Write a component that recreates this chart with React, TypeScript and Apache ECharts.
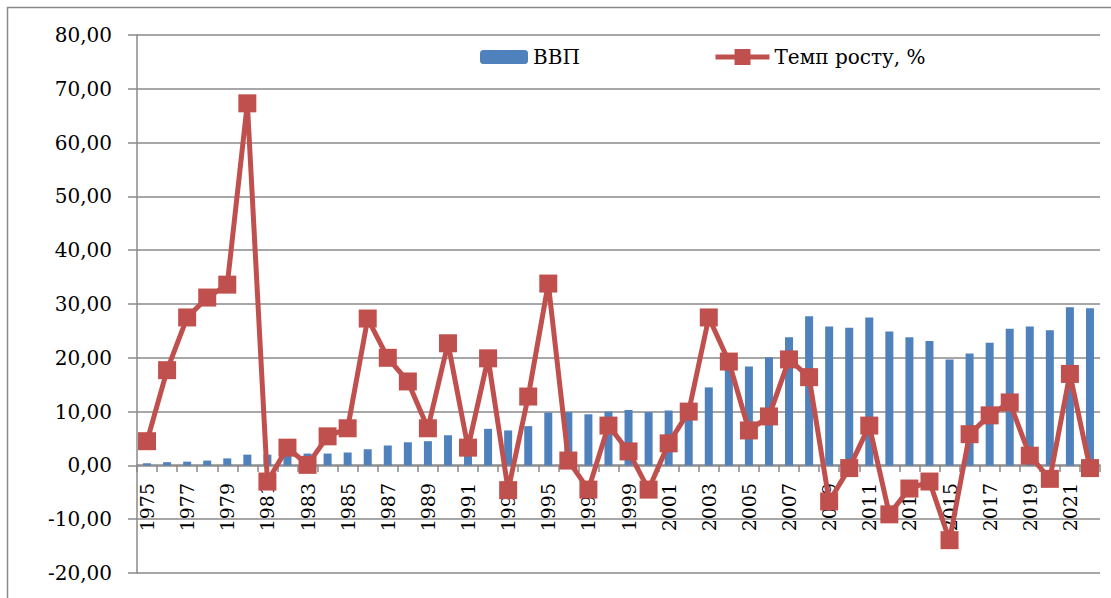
import React, { useEffect, useRef } from "react";
import * as echarts from "echarts";

const years: string[] = [];
for (let y = 1975; y <= 2022; y++) years.push(String(y));

const gdp = [
  0.4, 0.6, 0.7, 0.9, 1.3, 2.0, 2.0, 2.2, 2.2, 2.2, 2.4, 3.0, 3.7, 4.3, 4.5, 5.6,
  5.0, 6.8, 6.5, 7.3, 9.8, 9.9, 9.5, 10.0, 10.3, 9.9, 10.2, 11.0, 14.5, 18.0, 18.4, 20.1,
  23.8, 27.7, 25.8, 25.6, 27.5, 24.9, 23.8, 23.1, 19.7, 20.8, 22.8, 25.4, 25.8, 25.1, 29.4, 29.2,
];

const growth = [
  4.5, 17.7, 27.5, 31.2, 33.6, 67.3, -3.0, 3.3, 0.1, 5.4, 6.9, 27.3, 20.0, 15.6, 6.9, 22.7,
  3.3, 19.9, -4.6, 12.8, 33.8, 0.9, -4.5, 7.4, 2.6, -4.5, 4.1, 10.0, 27.5, 19.3, 6.5, 9.1,
  19.7, 16.4, -6.7, -0.5, 7.4, -9.1, -4.3, -3.0, -13.9, 5.8, 9.3, 11.7, 1.8, -2.5, 17.0, -0.5,
];

const gdpName = "ВВП";
const growthName = "Темп росту, %";

const FONT = "DejaVu Serif";
const GRAY = "#8a8a8a";

export default function App() {
  const ref = useRef<HTMLDivElement>(null);
  useEffect(() => {
    if (!ref.current) return;
    const chart = echarts.init(ref.current, null, { renderer: "svg" });
    chart.setOption({
      animation: false,
      backgroundColor: "#ffffff",
      textStyle: { fontFamily: FONT, color: "#000" },
      graphic: [
        {
          type: "rect",
          shape: { x: 7.5, y: 7.5, width: 1200, height: 700 },
          style: { fill: "none", stroke: GRAY, lineWidth: 1.5 },
          silent: true,
        },
      ],
      legend: [
        {
          data: [gdpName],
          left: 475,
          top: 42,
          itemWidth: 48,
          itemHeight: 14,
          textStyle: { fontFamily: FONT, fontSize: 20, color: "#000" },
        },
        {
          data: [growthName],
          left: 708,
          top: 42,
          itemWidth: 54,
          itemHeight: 20,
          itemGap: 3,
          lineStyle: { width: 5 },
          textStyle: { fontFamily: FONT, fontSize: 20, color: "#000" },
        },
      ],
      grid: { left: 137, right: 11, top: 35, bottom: 25, containLabel: false, outerBoundsMode: "none" },
      xAxis: {
        type: "category",
        data: years,
        boundaryGap: true,
        offset: -108,
        axisLine: { show: true, onZero: false, lineStyle: { color: GRAY, width: 1.5 } },
        axisTick: { show: true, interval: 0, length: 7, lineStyle: { color: GRAY, width: 1.5 } },
        axisLabel: {
          interval: 1,
          rotate: 90,
          margin: 18,
          fontFamily: FONT,
          fontSize: 19,
          color: "#000",
          hideOverlap: false,
        },
        splitLine: { show: false },
      },
      yAxis: {
        type: "value",
        min: -20,
        max: 80,
        interval: 10,
        axisLine: { show: true, lineStyle: { color: GRAY, width: 1.5 } },
        axisTick: { show: true, length: 9, lineStyle: { color: GRAY, width: 1.5 } },
        axisLabel: {
          margin: 25,
          fontFamily: FONT,
          fontSize: 20,
          color: "#000",
          formatter: (v: number) => v.toFixed(2).replace(".", ","),
        },
        splitLine: { show: true, lineStyle: { color: GRAY, width: 1.5 } },
      },
      series: [
        {
          name: gdpName,
          type: "bar",
          data: gdp,
          barWidth: 8,
          itemStyle: { color: "#4F81BD" },
        },
        {
          name: growthName,
          type: "line",
          data: growth,
          symbol: "rect",
          symbolSize: 18,
          showAllSymbol: true,
          lineStyle: { color: "#C0504D", width: 5 },
          itemStyle: { color: "#C0504D" },
          z: 5,
        },
      ],
    });
    return () => chart.dispose();
  }, []);
  return (
    <div
      ref={ref}
      style={{ position: "fixed", left: 0, top: 0, width: 1111, height: 598 }}
    />
  );
}
